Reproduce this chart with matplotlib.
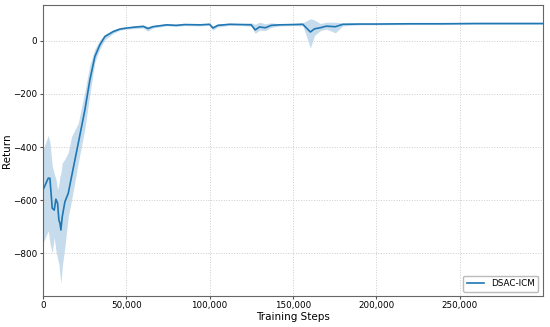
import matplotlib.pyplot as plt
from matplotlib.ticker import FuncFormatter

# values
steps = [0, 3200, 4200, 5600, 6800, 7800, 8800, 9600, 10200, 10800, 11600, 13200,
         15200, 17200, 21200, 25200, 28200, 31200, 34200, 37200, 42300, 46300, 50300,
         56000, 60300, 63000, 66000, 74300, 80000, 85000, 94400, 100000, 102000, 105000,
         112000, 120000, 125000, 127400, 130000, 133400, 137000, 142000, 150000, 156000,
         160500, 163000, 166500, 170000, 175500, 180000, 190000, 200000, 220000, 240000,
         260000, 280000, 300000]
mean = [-562, -517, -517, -630, -637, -596, -611, -675, -685, -712, -662, -606,
        -574, -511, -386, -260, -147, -59, -15, 16, 35, 44, 48,
        52, 54, 46, 53, 60, 58, 61, 60, 62, 48, 58,
        62, 61, 60, 41, 52, 49, 58, 60, 61, 62,
        33, 45, 49, 55, 53, 62, 63, 63, 64, 64,
        65, 65, 65]
lower = [-762, -715, -760, -800, -740, -790, -820, -840, -880, -913, -850, -775,
         -662, -600, -460, -330, -200, -80, -30, 4, 28, 40, 44,
         46, 48, 36, 48, 56, 54, 57, 56, 58, 40, 52,
         58, 57, 55, 28, 40, 38, 50, 56, 57, 56,
         -27, 20, 38, 44, 30, 56, 60, 60, 61, 61,
         62, 62, 62]
upper = [-411, -356, -380, -470, -500, -520, -560, -540, -510, -498, -460, -445,
         -420, -360, -310, -190, -90, -30, 4, 24, 42, 50, 52,
         57, 60, 54, 58, 64, 62, 65, 64, 66, 56, 64,
         66, 65, 68, 62, 70, 64, 68, 64, 65, 68,
         83, 78, 65, 70, 70, 67, 66, 66, 67, 67,
         68, 68, 68]

fig = plt.figure(figsize=(5.5, 3.27), dpi=100)
ax = fig.add_axes([0.078, 0.095, 0.909, 0.89])

color = "#1f77b4"
ax.fill_between(steps, lower, upper, color=color, alpha=0.25, linewidth=0)
ax.plot(steps, mean, color=color, linewidth=1.2, label="DSAC-ICM")

ax.set_xlim(0, 300000)
ax.set_ylim(-960, 135)
ax.set_xticks([0, 50000, 100000, 150000, 200000, 250000])
ax.set_yticks([-800, -600, -400, -200, 0])
ax.xaxis.set_major_formatter(FuncFormatter(lambda v, p: f"{int(v):,}"))
ax.tick_params(labelsize=6.3, length=2.5, pad=1.5, color="#555555")
ax.grid(True, linestyle=":", color="#cccccc", linewidth=0.7)
for s in ax.spines.values():
    s.set_color("#666666")

ax.set_xlabel("Training Steps", fontsize=7.5, labelpad=1)
ax.set_ylabel("Return", fontsize=7.5, labelpad=1)
ax.legend(loc="lower right", fontsize=6.3, framealpha=1, edgecolor="#bbbbbb")

plt.savefig("out.png", dpi=100)
